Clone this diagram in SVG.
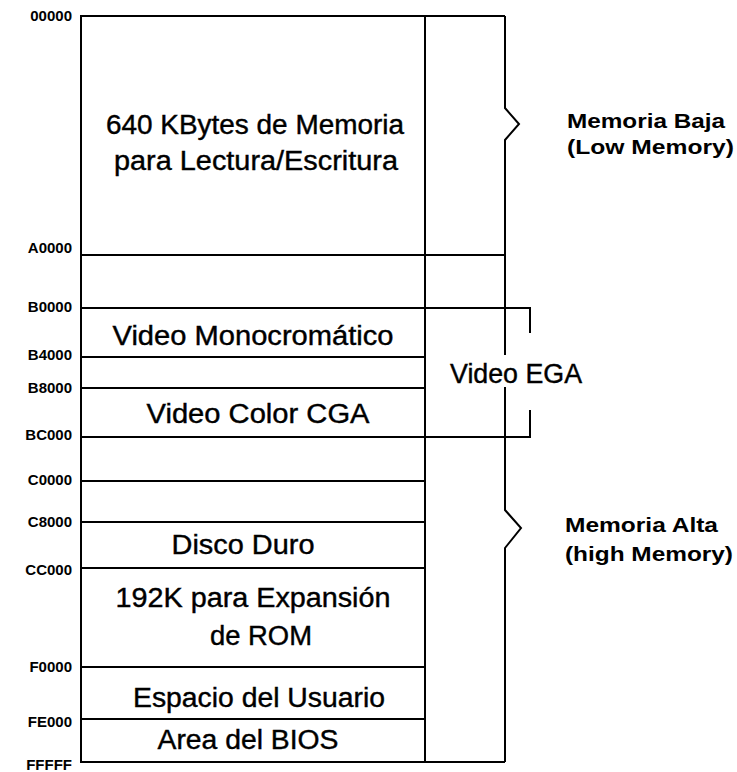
<svg xmlns="http://www.w3.org/2000/svg" width="737" height="772" viewBox="0 0 737 772">
<style>
.box{fill:none;stroke:#000;stroke-width:2}
.ln{fill:none;stroke:#000;stroke-width:2;stroke-linejoin:miter}
.t{font-family:"Liberation Sans",Arial,sans-serif;font-size:27px;fill:#000;stroke:#000;stroke-width:0.4}
.c{text-anchor:middle}
.b{font-family:"Liberation Sans",Arial,sans-serif;font-size:21px;font-weight:bold;fill:#000}
.a{font-family:"Liberation Sans",Arial,sans-serif;font-size:15px;font-weight:bold;fill:#000;text-anchor:end}
</style>
<rect width="737" height="772" fill="#fff"/>
<g id="low-memory-area"><rect class="box" x="81" y="16" width="344" height="239"/>
<text class="t c" x="255" y="134" textLength="298" lengthAdjust="spacingAndGlyphs">640 KBytes de Memoria</text>
<text class="t c" x="256" y="170" textLength="284" lengthAdjust="spacingAndGlyphs">para Lectura/Escritura</text></g>
<g id="a0000-block"><rect class="box" x="81" y="255" width="344" height="53"/></g>
<g id="video-mono"><rect class="box" x="81" y="308" width="344" height="49"/>
<text class="t c" x="253" y="345" textLength="281" lengthAdjust="spacingAndGlyphs">Video Monocromático</text></g>
<g id="b4000-block"><rect class="box" x="81" y="357" width="344" height="31"/></g>
<g id="video-cga"><rect class="box" x="81" y="388" width="344" height="49"/>
<text class="t c" x="258" y="423" textLength="223" lengthAdjust="spacingAndGlyphs">Video Color CGA</text></g>
<g id="bc000-block"><rect class="box" x="81" y="437" width="344" height="44"/></g>
<g id="c0000-block"><rect class="box" x="81" y="481" width="344" height="41"/></g>
<g id="disco-duro"><rect class="box" x="81" y="522" width="344" height="46"/>
<text class="t c" x="243" y="554" textLength="143" lengthAdjust="spacingAndGlyphs">Disco Duro</text></g>
<g id="rom-expansion"><rect class="box" x="81" y="568" width="344" height="99"/>
<text class="t c" x="253" y="607" textLength="275" lengthAdjust="spacingAndGlyphs">192K para Expansión</text>
<text class="t c" x="261" y="645" textLength="102" lengthAdjust="spacingAndGlyphs">de ROM</text></g>
<g id="user-space"><rect class="box" x="81" y="667" width="344" height="52"/>
<text class="t c" x="259" y="707" textLength="252" lengthAdjust="spacingAndGlyphs">Espacio del Usuario</text></g>
<g id="bios-area"><rect class="box" x="81" y="719" width="344" height="43"/>
<text class="t c" x="248" y="749" textLength="181" lengthAdjust="spacingAndGlyphs">Area del BIOS</text></g>
<g id="right-column">
<path class="ln" d="M425 16H505M425 255H505M425 762H505M425 308H530V333M530 410V437H425"/>
<path class="ln" d="M505 16V108L519 124L505 140V355M505 387V510L521 528L505 548V762"/>
</g>
<g id="video-ega"><text class="t" x="450" y="383" textLength="132" lengthAdjust="spacingAndGlyphs">Video EGA</text></g>
<g id="memoria-baja"><text class="b" x="567" y="128" textLength="158" lengthAdjust="spacingAndGlyphs">Memoria Baja</text>
<text class="b" x="567" y="154" textLength="167" lengthAdjust="spacingAndGlyphs">(Low Memory)</text></g>
<g id="memoria-alta"><text class="b" x="565" y="532" textLength="153" lengthAdjust="spacingAndGlyphs">Memoria Alta</text>
<text class="b" x="565" y="561" textLength="168" lengthAdjust="spacingAndGlyphs">(high Memory)</text></g>
<g id="addresses">
<text class="a" x="72" y="21">00000</text>
<text class="a" x="72" y="253">A0000</text>
<text class="a" x="72" y="312">B0000</text>
<text class="a" x="72" y="360">B4000</text>
<text class="a" x="72" y="393">B8000</text>
<text class="a" x="72" y="440">BC000</text>
<text class="a" x="72" y="485">C0000</text>
<text class="a" x="72" y="527">C8000</text>
<text class="a" x="72" y="575">CC000</text>
<text class="a" x="72" y="672">F0000</text>
<text class="a" x="72" y="727">FE000</text>
<text class="a" x="72" y="770">FFFFF</text>
</g>
</svg>
